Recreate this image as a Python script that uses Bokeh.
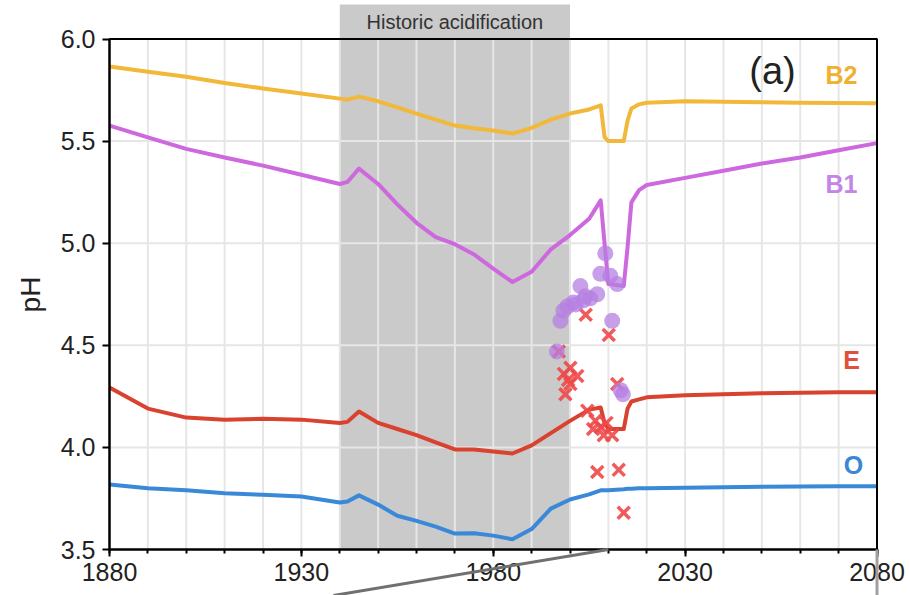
from bokeh.plotting import figure
from bokeh.models import Range1d, LinearAxis, FixedTicker, PrintfTickFormatter
from bokeh.core.properties import value
from bokeh.embed import file_html
from bokeh.resources import INLINE

# Modelled stream-water pH for the four sites (years shared by all series)
YEARS = [1880, 1890, 1900, 1910, 1920, 1930, 1940, 1942, 1945, 1950, 1955, 1960,
         1965, 1970, 1975, 1980, 1985, 1990, 1995, 2000, 2005, 2008, 2009, 2010,
         2014, 2015, 2016, 2018, 2020, 2030, 2040, 2050, 2060, 2070, 2080]
PH_B2 = [5.865, 5.84, 5.815, 5.785, 5.758, 5.733, 5.708, 5.703, 5.718, 5.695, 5.665, 5.635,
         5.605, 5.576, 5.563, 5.552, 5.537, 5.565, 5.605, 5.635, 5.655, 5.675, 5.52, 5.50,
         5.50, 5.60, 5.66, 5.68, 5.688, 5.695, 5.693, 5.69, 5.688, 5.686, 5.685]
PH_B1 = [5.576, 5.518, 5.462, 5.42, 5.38, 5.335, 5.29, 5.30, 5.365, 5.29, 5.19, 5.10,
         5.03, 4.995, 4.945, 4.875, 4.81, 4.86, 4.97, 5.04, 5.12, 5.21, 5.00, 4.80,
         4.79, 4.98, 5.20, 5.26, 5.285, 5.32, 5.355, 5.39, 5.42, 5.455, 5.49]
PH_E = [4.293, 4.19, 4.146, 4.136, 4.14, 4.136, 4.12, 4.125, 4.176, 4.12, 4.09, 4.06,
        4.025, 3.99, 3.99, 3.98, 3.97, 4.01, 4.07, 4.13, 4.185, 4.195, 4.12, 4.09,
        4.09, 4.19, 4.225, 4.235, 4.245, 4.255, 4.26, 4.265, 4.268, 4.27, 4.27]
PH_O = [3.818, 3.80, 3.79, 3.775, 3.768, 3.76, 3.73, 3.735, 3.765, 3.72, 3.665, 3.64,
        3.612, 3.578, 3.58, 3.568, 3.55, 3.60, 3.70, 3.745, 3.77, 3.79, 3.79, 3.79,
        3.795, 3.797, 3.798, 3.80, 3.80, 3.803, 3.805, 3.807, 3.808, 3.81, 3.81]

# Measured pH (crosses and dots)
OBS_X_YEAR = [1997.1, 1998.4, 2000.1, 2001.9, 2000.1, 1998.8, 1999.5, 2004.1, 2010.1, 2012.3,
              2004.5, 2006.6, 2008.0, 2008.8, 2011.0, 2007.1, 2012.7, 2014.0, 2006.0, 2009.5]
OBS_X_PH = [4.47, 4.36, 4.39, 4.35, 4.31, 4.26, 4.33, 4.65, 4.55, 4.31,
            4.18, 4.13, 4.10, 4.06, 4.06, 3.88, 3.89, 3.68, 4.09, 4.12]
OBS_C_YEAR = [1996.6, 1997.5, 1998.3, 1999.3, 2000.9, 2002.7, 2003.5, 2005.3, 2007.1,
              2007.9, 2009.2, 2010.5, 2012.3, 2011.0, 2013.2, 2013.8, 2001.5, 2004.0]
OBS_C_PH = [4.47, 4.62, 4.67, 4.69, 4.71, 4.79, 4.72, 4.73, 4.75,
            4.85, 4.95, 4.84, 4.80, 4.62, 4.28, 4.26, 4.70, 4.74]

X_TICKS = [1880, 1930, 1980, 2030, 2080]
X_MINOR = list(range(1880, 2081, 10))
Y_TICKS = [3.5, 4.0, 4.5, 5.0, 5.5, 6.0]
ACID_START, ACID_END = 1940, 2000

W, H = 910, 595
# plot box in screen pixels; the frame fills the whole canvas
BOX_L, BOX_R, BOX_T, BOX_B = 109.0, 876.5, 38.5, 549.0
XS = (X_TICKS[-1] - X_TICKS[0]) / (BOX_R - BOX_L)
YS = (Y_TICKS[-1] - Y_TICKS[0]) / (BOX_B - BOX_T)
X0 = X_TICKS[0] - BOX_L * XS
Y1 = Y_TICKS[-1] + BOX_T * YS


def px_x(px):
    return X0 + px * XS


def px_y(py):
    return Y1 - py * YS


p = figure(width=W, height=H, title=None,
           x_range=Range1d(X0, X0 + W * XS), y_range=Range1d(Y1 - H * YS, Y1),
           x_axis_type=None, y_axis_type=None,
           toolbar_location=None, output_backend="svg",
           min_border=0, outline_line_color=None,
           background_fill_color="white", border_fill_color="white")

FONT = "Liberation Sans"

# shaded period, running up above the box to hold its caption
p.quad(left=[ACID_START], right=[ACID_END], bottom=[Y_TICKS[0]], top=[px_y(4)],
       fill_color="#cacaca", line_color=None)
p.text(x=[(ACID_START + ACID_END) / 2], y=[px_y(21)], text=["Historic acidification"],
       text_font=value(FONT), text_font_size="20px", text_color="#333333",
       text_align="center", text_baseline="middle")

# grid, kept inside the box
gx = X_MINOR[1:-1]
p.segment(x0=gx, x1=gx, y0=[Y_TICKS[0]] * len(gx), y1=[Y_TICKS[-1]] * len(gx),
          line_color="#e6e6e6", line_width=2)
gy = Y_TICKS[1:-1]
p.segment(x0=[X_TICKS[0]] * len(gy), x1=[X_TICKS[-1]] * len(gy), y0=gy, y1=gy,
          line_color="#e6e6e6", line_width=2)

# modelled series
for ys, col in [(PH_B2, "#f2b83a"), (PH_B1, "#cd68de"), (PH_E, "#d8422f"), (PH_O, "#3a89d8")]:
    p.line(YEARS, ys, line_color=col, line_width=4, line_join="round")

# observations
p.scatter(OBS_X_YEAR, OBS_X_PH, marker="x", size=17, line_color="#f04848",
          line_width=3.5, line_alpha=0.9)
p.scatter(OBS_C_YEAR, OBS_C_PH, marker="circle", size=16, fill_color="#b580e2",
          fill_alpha=0.75, line_color=None)

# series names
for txt, x, y, col in [("B2", 841, 74, "#f0b030"), ("B1", 841, 183, "#c486e4"),
                       ("E", 851, 359, "#e0503c"), ("O", 853, 464, "#3a86d6")]:
    p.text(x=[px_x(x)], y=[px_y(y)], text=[txt], text_font=value(FONT),
           text_font_size="25px", text_font_style="bold", text_color=col,
           text_align="center", text_baseline="middle")

p.text(x=[px_x(772)], y=[px_y(70)], text=["(a)"], text_font=value(FONT),
       text_font_size="38px", text_color="#222222",
       text_align="center", text_baseline="middle")

# box
p.quad(left=[X_TICKS[0]], right=[X_TICKS[-1]], bottom=[Y_TICKS[0]], top=[Y_TICKS[-1]],
       fill_color=None, line_color="black", line_width=2)

# connector lines below the box
r1 = p.segment(x0=[px_x(333)], y0=[px_y(H)], x1=[2010], y1=[Y_TICKS[0]],
               line_color="#707070", line_width=3)
r2 = p.segment(x0=[X_TICKS[-1]], y0=[Y_TICKS[0]], x1=[X_TICKS[-1]], y1=[px_y(H)],
               line_color="#a0a0a0", line_width=3)
r1.level = "overlay"
r2.level = "overlay"

xaxis = LinearAxis(fixed_location=Y_TICKS[0], bounds=(X_TICKS[0], X_TICKS[-1]),
                   ticker=FixedTicker(ticks=X_TICKS, minor_ticks=X_MINOR))
yaxis = LinearAxis(fixed_location=X_TICKS[0], bounds=(Y_TICKS[0], Y_TICKS[-1]),
                   ticker=FixedTicker(ticks=Y_TICKS),
                   formatter=PrintfTickFormatter(format="%.1f"),
                   axis_label="pH")
for ax in (xaxis, yaxis):
    ax.axis_line_width = 2
    ax.axis_line_color = "black"
    ax.major_tick_line_width = 2
    ax.minor_tick_line_width = 2
    ax.major_tick_in = 0
    ax.major_tick_out = 7
    ax.minor_tick_in = 0
    ax.minor_tick_out = 4
    ax.major_label_text_font = FONT
    ax.major_label_text_font_size = "25px"
    ax.major_label_text_color = "#222222"
    ax.axis_label_text_font = FONT
    ax.axis_label_text_font_size = "28px"
    ax.axis_label_text_font_style = "normal"
    ax.axis_label_text_color = "#222222"
xaxis.major_label_standoff = 6
yaxis.major_label_standoff = 7
yaxis.minor_tick_line_color = None
yaxis.axis_label_standoff = 12

p.add_layout(xaxis, "below")
p.add_layout(yaxis, "left")

open("out.html", "w").write(file_html(p, INLINE))
